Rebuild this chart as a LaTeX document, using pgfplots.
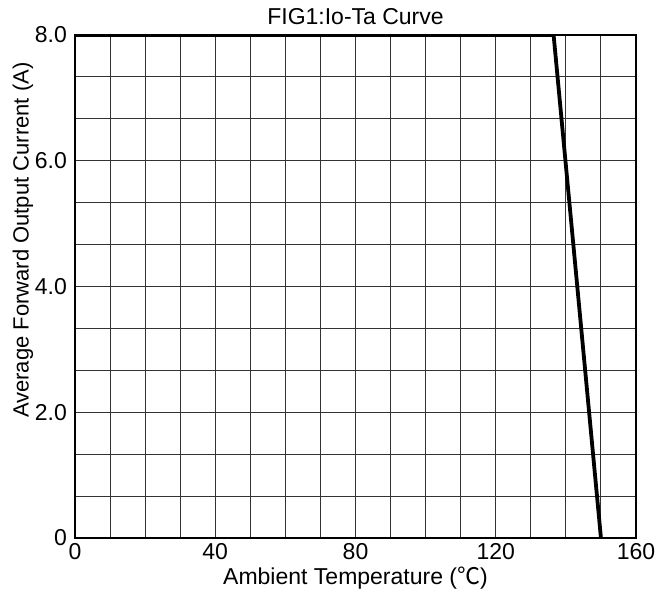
\documentclass[border=0pt]{standalone}
\usepackage{fontspec}
\setmainfont{Liberation Sans}
\newfontfamily\cjk{Noto Sans CJK SC}
\usepackage{pgfplots}
\pgfplotsset{compat=1.18}
\usetikzlibrary{calc}
\begin{document}
\fontsize{11.5pt}{13.5pt}\selectfont
\begin{tikzpicture}
\begin{axis}[
  name=ax,
  scale only axis,
  width=280.5pt, height=251.5pt,
  xmin=0, xmax=160, ymin=0, ymax=8,
  xtick={0,40,80,120,160},
  minor xtick={10,20,30,50,60,70,90,100,110,130,140,150},
  ytick={0,2,4,6,8},
  yticklabels={0,2.0,4.0,6.0,8.0},
  minor ytick={0.6667,1.3333,2.6667,3.3333,4.6667,5.3333,6.6667,7.3333},
  grid=both,
  major grid style={draw=black!80, line width=0.5pt},
  minor grid style={draw=black!80, line width=0.5pt},
  axis line style={line width=0.6pt},
  tick style={draw=none},
  /pgf/number format/assume math mode=true,
  ticklabel style={font=\fontsize{11.5pt}{13.5pt}\selectfont},
  xticklabel style={anchor=base, yshift=-11pt},
  title={FIG1:Io-Ta Curve},
  title style={at={(axis description cs:0.5,1)}, anchor=base, yshift=-1pt, inner sep=0pt},
  xlabel={Ambient Temperature ({\cjk ℃})},
  xlabel style={at={(axis description cs:0.5,0)}, anchor=base, yshift=-23.5pt, inner sep=0pt},
  ylabel={Average Forward Output Current (A)},
  ylabel style={at={(axis description cs:-0.0927,0.592)}, anchor=center, inner sep=0pt, font=\fontsize{11pt}{13pt}\selectfont},
]
\addplot[black, line width=1.9pt, line join=miter] coordinates {(0,8) (136.5,8) (150,0)};
\end{axis}
\pgfresetboundingbox
\path ($(ax.south west)+(-37.5pt,-28.5pt)$) rectangle ($(ax.north east)+(13pt,17.5pt)$);
\end{tikzpicture}
\end{document}
